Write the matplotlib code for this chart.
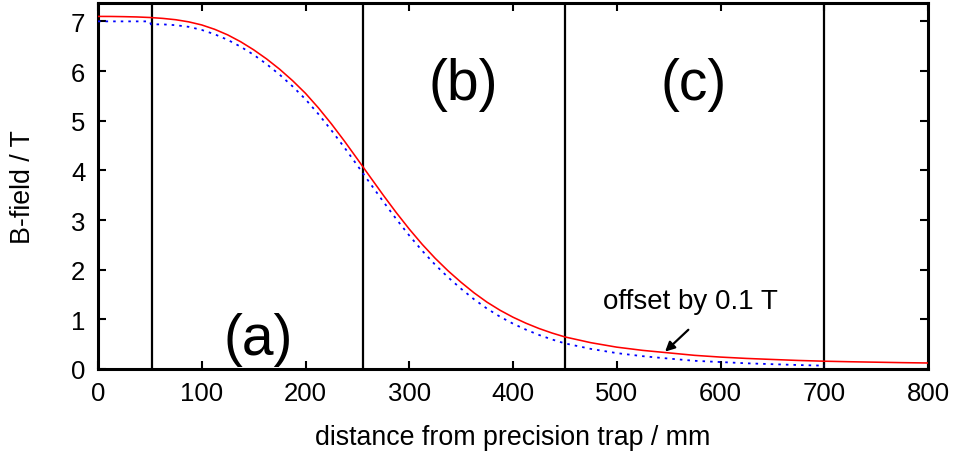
import matplotlib
matplotlib.use("Agg")
import matplotlib.pyplot as plt

plt.rcParams['font.family'] = ['Liberation Sans', 'DejaVu Sans']

# Calculated field along the axis (solid)
dist_calc = [0, 12.5, 25, 37.5, 50, 62.5, 75, 87.5, 100, 112.5, 125, 137.5,
             150, 162.5, 175, 187.5, 200, 212.5, 225, 237.5, 250, 262.5, 275,
             287.5, 300, 312.5, 325, 337.5, 350, 362.5, 375, 387.5, 400, 412.5,
             425, 437.5, 450, 475, 500, 525, 550, 575, 600, 625, 650, 675, 700,
             725, 750, 775, 800]
field_calc = [7.100, 7.099, 7.095, 7.089, 7.078, 7.060, 7.033, 6.990, 6.928,
              6.840, 6.728, 6.590, 6.428, 6.244, 6.038, 5.807, 5.551, 5.257,
              4.935, 4.590, 4.228, 3.862, 3.499, 3.149, 2.818, 2.510, 2.229,
              1.975, 1.745, 1.533, 1.345, 1.183, 1.043, 0.922, 0.816, 0.725,
              0.646, 0.530, 0.440, 0.375, 0.325, 0.275, 0.240, 0.213, 0.192,
              0.172, 0.157, 0.146, 0.137, 0.128, 0.121]

# Second field profile (dotted), drawn 0.1 T lower
dist_meas = [0, 25, 50, 51, 62.5, 75, 87.5, 100, 112.5, 125, 137.5, 150,
             162.5, 175, 187.5, 200, 212.5, 225, 237.5, 250, 262.5, 275, 287.5,
             300, 312.5, 325, 337.5, 350, 362.5, 375, 387.5, 400, 412.5, 425,
             437.5, 450, 475, 500, 525, 550, 575, 600, 625, 650, 675, 700]
field_meas = [7.000, 7.000, 7.000, 6.940, 6.940, 6.923, 6.890, 6.828, 6.740,
              6.628, 6.490, 6.328, 6.139, 5.928, 5.692, 5.431, 5.132, 4.805,
              4.460, 4.098, 3.732, 3.369, 3.019, 2.688, 2.380, 2.099, 1.845,
              1.615, 1.403, 1.215, 1.053, 0.913, 0.792, 0.686, 0.595, 0.516,
              0.405, 0.320, 0.258, 0.210, 0.165, 0.140, 0.115, 0.097, 0.080,
              0.067]

# Region boundaries and labels
region_edges = [52, 255, 450, 700]
region_labels = ["(a)", "(b)", "(c)"]
region_label_pos = [(154, 0.6), (352, 5.73), (574, 5.73)]

x_ticks = [0, 100, 200, 300, 400, 500, 600, 700, 800]
y_ticks = [0, 1, 2, 3, 4, 5, 6, 7]

fig = plt.figure(figsize=(9.65, 4.56), dpi=100)
ax = fig.add_axes([98 / 965, 1 - 370 / 456, 830 / 965, 366 / 456])

ax.plot(dist_calc, field_calc, color='#ff0000', lw=1.15, zorder=3)
ax.plot(dist_meas, field_meas, color='#0000ff', lw=1.3,
        linestyle=(0, (1.4, 2.8)), zorder=3)

for xe in region_edges:
    ax.axvline(xe, color='black', lw=1.6, zorder=2)

for lab, (lx, ly) in zip(region_labels, region_label_pos):
    ax.text(lx, ly, lab, fontsize=41, ha='center', va='center')

ax.text(571, 1.37, "offset by 0.1 T", fontsize=20, ha='center', va='center')
ax.annotate("", xy=(546.6, 0.35), xytext=(569, 0.79),
            arrowprops=dict(arrowstyle='-|>', color='black', lw=1.6,
                            mutation_scale=14, shrinkA=0, shrinkB=0))

ax.set_xlim(0, 800)
ax.set_ylim(0, 7.37)
ax.set_xticks(x_ticks)
ax.set_yticks(y_ticks)
ax.tick_params(direction='in', length=6, width=1.5, top=True, right=True,
               labelsize=18.5, pad=9)

for sp in ax.spines.values():
    sp.set_linewidth(2.2)

ax.set_xlabel("distance from precision trap / mm", fontsize=19.3, labelpad=13)
ax.set_ylabel("B-field / T", fontsize=19.3, labelpad=25)

fig.savefig("out.png", dpi=100)
